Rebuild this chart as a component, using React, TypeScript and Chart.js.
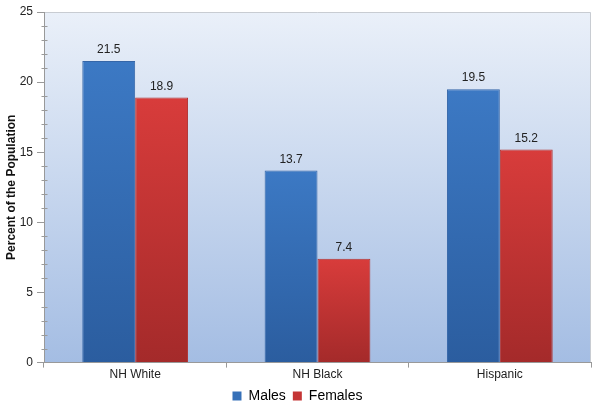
import React, { useEffect, useRef } from "react";
import { Chart, registerables } from "chart.js";

Chart.register(...registerables);

const categories = ["NH White", "NH Black", "Hispanic"];
const males = [21.5, 13.7, 19.5];
const females = [18.9, 7.4, 15.2];
const yTicks = [0, 5, 10, 15, 20, 25];
const minorTicks = [1, 2, 3, 4, 6, 7, 8, 9, 11, 12, 13, 14, 16, 17, 18, 19, 21, 22, 23, 24];

const FONT = "'Liberation Sans', Arial, sans-serif";

function barGradient(ctx: any, top: string, bottom: string) {
  const chart = ctx.chart;
  const area = chart.chartArea;
  if (!area) return top;
  const y = chart.scales.y;
  const v = ctx.raw as number;
  const y0 = y.getPixelForValue(v);
  const y1 = y.getPixelForValue(0);
  const g = chart.ctx.createLinearGradient(0, y0, 0, y1);
  g.addColorStop(0, top);
  g.addColorStop(1, bottom);
  return g;
}

const bgPlugin = {
  id: "bgPlugin",
  beforeDraw(chart: any) {
    const { ctx, chartArea } = chart;
    if (!chartArea) return;
    const g = ctx.createLinearGradient(0, chartArea.top, 0, chartArea.bottom);
    g.addColorStop(0, "#eaf0f9");
    g.addColorStop(1, "#a4bde3");
    ctx.save();
    ctx.fillStyle = g;
    ctx.fillRect(chartArea.left, chartArea.top, chartArea.right - chartArea.left, chartArea.bottom - chartArea.top);
    ctx.strokeStyle = "#c8ccd2";
    ctx.lineWidth = 1;
    ctx.beginPath();
    ctx.moveTo(chartArea.left, chartArea.top + 0.5);
    ctx.lineTo(chartArea.right - 0.5, chartArea.top + 0.5);
    ctx.lineTo(chartArea.right - 0.5, chartArea.bottom);
    ctx.stroke();
    ctx.restore();
  },
  afterDraw(chart: any) {
    const { ctx } = chart;
    const y = chart.scales.y;
    ctx.save();
    ctx.strokeStyle = "#9a9a9a";
    ctx.lineWidth = 1;
    const x = Math.round(y.right) + 0.5;
    minorTicks.forEach((v) => {
      const py = Math.round(y.getPixelForValue(v)) + 0.5;
      ctx.beginPath();
      ctx.moveTo(x - 3, py);
      ctx.lineTo(x + 3, py);
      ctx.stroke();
    });
    ctx.restore();
  },
};

const labelPlugin = {
  id: "labelPlugin",
  afterDatasetsDraw(chart: any) {
    const { ctx } = chart;
    ctx.save();
    ctx.font = `12px ${FONT}`;
    ctx.fillStyle = "#222";
    ctx.textAlign = "center";
    ctx.textBaseline = "bottom";
    chart.data.datasets.forEach((ds: any, i: number) => {
      const meta = chart.getDatasetMeta(i);
      meta.data.forEach((el: any, j: number) => {
        ctx.fillText(String(ds.data[j]), el.x, el.y - 5);
      });
    });
    ctx.restore();
  },
};

export default function App() {
  const ref = useRef<HTMLCanvasElement>(null);
  useEffect(() => {
    document.body.style.margin = "0";
    const canvas = ref.current!;
    const chart = new Chart(canvas, {
      type: "bar",
      data: {
        labels: categories,
        datasets: [
          {
            label: "Males",
            data: males,
            backgroundColor: (c: any) => barGradient(c, "#3c79c4", "#2b5d9f"),
            borderColor: "#3566a8",
            borderWidth: { left: 1, right: 1, top: 1, bottom: 0 },
            categoryPercentage: 0.58,
            barPercentage: 1,
          },
          {
            label: "Females",
            data: females,
            backgroundColor: (c: any) => barGradient(c, "#d83c3b", "#a42a2a"),
            borderColor: "#b03333",
            borderWidth: { left: 1, right: 1, top: 1, bottom: 0 },
            categoryPercentage: 0.58,
            barPercentage: 1,
          },
        ],
      },
      options: {
        animation: false,
        responsive: false,
        devicePixelRatio: 1,
        layout: { padding: { top: 12, right: 13, left: 4, bottom: -5 } },
        plugins: {
          legend: {
            position: "bottom",
            labels: {
              boxWidth: 9,
              boxHeight: 9,
              padding: 7,
              color: "#222",
              font: { family: FONT, size: 14 },
              generateLabels: () => [
                { text: "Males", fillStyle: "#3670b8", strokeStyle: "#3670b8", lineWidth: 0, datasetIndex: 0 } as any,
                { text: "Females", fillStyle: "#c43535", strokeStyle: "#c43535", lineWidth: 0, datasetIndex: 1 } as any,
              ],
            },
          },
          tooltip: { enabled: false },
        },
        scales: {
          x: {
            grid: { drawOnChartArea: false, tickLength: 5, color: "#999" },
            border: { color: "#999" },
            ticks: { color: "#222", font: { family: FONT, size: 12 }, padding: 0 },
          },
          y: {
            min: 0,
            max: 25,
            afterBuildTicks: (s: any) => {
              s.ticks = yTicks.map((v) => ({ value: v }));
            },
            afterFit: (s: any) => {
              s.width = 40;
            },
            grid: { drawOnChartArea: false, tickLength: 7, color: "#999" },
            border: { color: "#999" },
            ticks: { color: "#222", font: { family: FONT, size: 12 }, padding: 4 },
            title: {
              display: true,
              text: "Percent of the Population",
              color: "#111",
              font: { family: FONT, size: 12, weight: "bold" },
              padding: { top: 0, bottom: 0 },
            },
          },
        },
      },
      plugins: [bgPlugin, labelPlugin],
    } as any);
    return () => chart.destroy();
  }, []);
  return (
    <div style={{ position: "absolute", left: 0, top: 0, width: 604, height: 408, background: "#fff" }}>
      <canvas ref={ref} width={604} height={408} />
    </div>
  );
}
